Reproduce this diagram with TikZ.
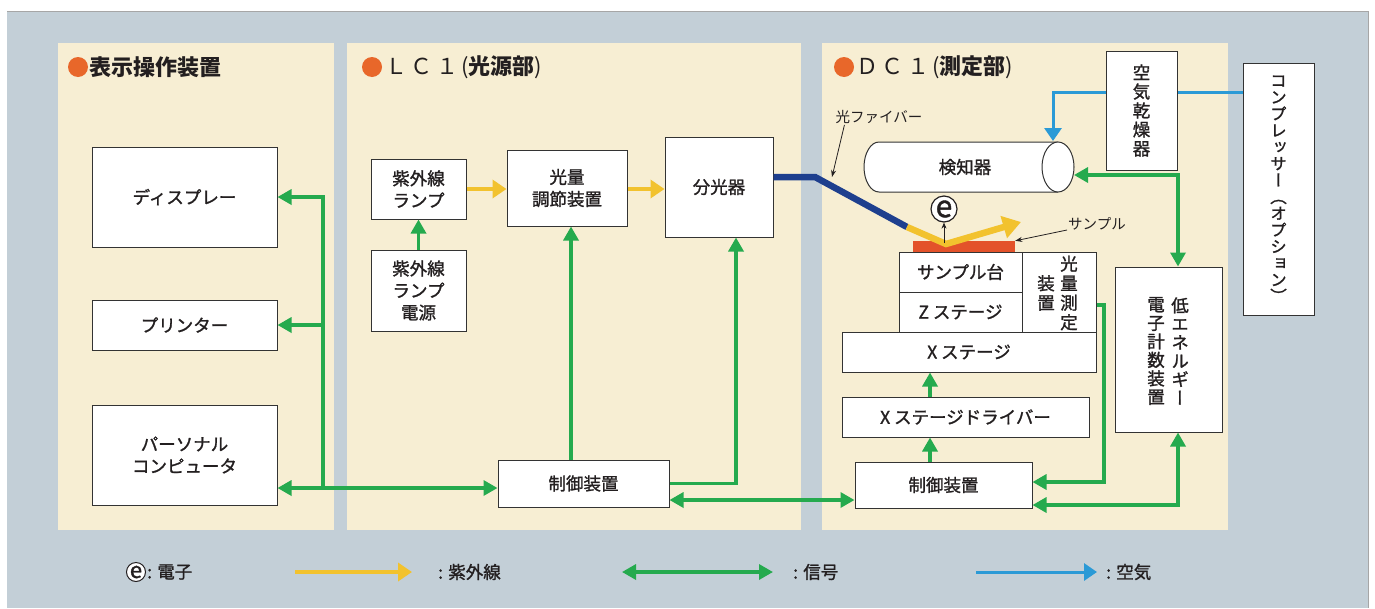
\documentclass[tikz,border=0pt]{standalone}
\usepackage{fontspec}
\setmainfont{Noto Sans CJK JP}
\newfontfamily\jpm{Noto Sans CJK JP}[FakeBold=1.3]
\newfontfamily\vjp{Noto Sans CJK JP}[RawFeature=+vert,FakeBold=1.3]
\usetikzlibrary{arrows.meta,calc}
\definecolor{bgc}{HTML}{C3CFD7}
\definecolor{panelc}{HTML}{F7EED3}
\definecolor{sigc}{HTML}{25AA4E}
\definecolor{uvc}{HTML}{F2C22E}
\definecolor{fibc}{HTML}{1E3F8E}
\definecolor{airc}{HTML}{2B9AD6}
\definecolor{dotc}{HTML}{E8672A}
\definecolor{smpc}{HTML}{E3522A}
\definecolor{boxc}{HTML}{333333}
\definecolor{txtc}{HTML}{231F20}
\tikzset{
  box/.style={draw=boxc, line width=1pt, fill=white, inner sep=0pt, align=center,
    text=txtc, font=\jpm\fontsize{17.5}{22}\selectfont},
  vt/.style={inner sep=0pt, align=center, text=txtc, font=\vjp\fontsize{17.5}{19.5}\selectfont},
  title/.style={anchor=west, inner sep=0pt, text=txtc, font=\fontsize{22}{22}\selectfont\bfseries},
  odot/.style={circle, fill=dotc, minimum size=20pt, inner sep=0pt},
  lbl/.style={inner sep=1pt, text=txtc, font=\fontsize{14.5}{16}\selectfont},
  leg/.style={anchor=west, inner sep=0pt, text=txtc, font=\jpm\fontsize{17.5}{20}\selectfont},
  sigtip/.tip={Triangle[length=14pt,width=15pt]},
  uvtip/.tip={Triangle[length=14pt,width=18pt]},
  airtip/.tip={Triangle[length=13pt,width=17pt]},
  sig/.style={draw=sigc, line width=3.3pt},
  uv/.style={draw=uvc, line width=4.2pt},
  air/.style={draw=airc, line width=3pt},
  lead/.style={draw=txtc, line width=0.8pt, -{Stealth[length=7pt,width=5pt]}},
}
\newcommand\ttlsp{\hspace{3.5pt}}
\begin{document}
\begin{tikzpicture}[x=1pt,y=-1pt]
\useasboundingbox (0,0) rectangle (1375,608);
\fill[bgc] (7,11) rectangle (1368,608);
\draw[black!35, line width=0.6pt] (7,11) -- (1368,11) -- (1368,608);
\fill[panelc] (58,43) rectangle (334,530);
\fill[panelc] (347,43) rectangle (801,530);
\fill[panelc] (822,43) rectangle (1228,530);

% titles
\node[odot] (d1) at (78,67) {};
\node[title] (t1) at (89,67) {表示操作装置};
\node[odot] (d2) at (372,67) {};
\node[title] (t2) at (385,67) {{\mdseries Ｌ\ttlsp Ｃ\ttlsp １}\hspace{3pt}{\mdseries(}光源部{\mdseries)}};
\node[odot] (d3) at (844,67) {};
\node[title] (t3) at (856,67) {{\mdseries Ｄ\ttlsp Ｃ\ttlsp １}\hspace{3pt}{\mdseries(}測定部{\mdseries)}};

% panel 1
\node[box, minimum width=185, minimum height=100] (disp) at (184.5,197) {ディスプレー};
\node[box, minimum width=185, minimum height=50] (prn) at (184.5,325) {プリンター};
\node[box, minimum width=185, minimum height=100] (pc) at (184.5,455) {パーソナル\\コンピュータ};

% panel 2
\node[box, minimum width=95, minimum height=60] (uvl) at (418.5,189) {紫外線\\ランプ};
\node[box, minimum width=95, minimum height=81] (uvp) at (418.5,290.5) {紫外線\\ランプ\\電源};
\node[box, minimum width=120, minimum height=76] (adj) at (567,188) {光量\\調節装置};
\node[box, minimum width=108, minimum height=100] (spec) at (719,187) {分光器};
\node[box, minimum width=171, minimum height=47] (ctl1) at (583.5,483.5) {制御装置};

% panel 3
\node[inner sep=0pt, minimum width=210, minimum height=50] (det) at (969,167) {};
\draw[boxc, line width=1pt, fill=white] (1058,142) -- (879,142)
  arc[start angle=270, end angle=90, x radius=15, y radius=25] -- (1058,192);
\draw[boxc, line width=1pt, fill=white] (1058,167) ellipse [x radius=16, y radius=25];
\node[text=txtc, font=\jpm\fontsize{17.5}{22}\selectfont, inner sep=0pt] (detl) at (965,167) {検知器};

\node[box, minimum width=71, minimum height=119, font=\vjp\fontsize{17.5}{19}\selectfont] (dry) at (1141.5,110.5) {空\\気\\乾\\燥\\器};
\node[box, minimum width=71, minimum height=252, font=\vjp\fontsize{16.5}{16.6}\selectfont] (cmp) at (1278.5,189) {コ\\ン\\プ\\レ\\ッ\\サ\\ー\\（\\オ\\プ\\シ\\ョ\\ン\\）};

\node[box, minimum width=123, minimum height=40] (stg) at (960.5,272) {サンプル台};
\node[box, minimum width=123, minimum height=40] (zst) at (960.5,312) {Z ステージ};
\node[box, minimum width=74, minimum height=80] (lm) at (1059,292) {};
\node[vt] (lm1) at (1069,293) {光\\量\\測\\定};
\node[vt] (lm2) at (1046,293) {装\\置};
\node[box, minimum width=254, minimum height=40] (xst) at (969,352) {X ステージ};
\node[box, minimum width=247, minimum height=40] (drv) at (965.5,417) {X ステージドライバー};
\node[box, minimum width=177, minimum height=46] (ctl2) at (943.5,485) {制御装置};
\node[box, minimum width=107, minimum height=165] (lee) at (1168.5,349.5) {};
\node[vt, font=\vjp\fontsize{17.5}{18.5}\selectfont] (lee1) at (1180,351) {低\\エ\\ネ\\ル\\ギ\\ー};
\node[vt, font=\vjp\fontsize{17.5}{18.5}\selectfont] (lee2) at (1156,351) {電\\子\\計\\数\\装\\置};

% sample and electron
\node[fill=smpc, minimum width=102, minimum height=11, inner sep=0pt] (smp) at (964,246.5) {};
\node[circle, draw=txtc, line width=1.2pt, fill=white, inner sep=0pt, minimum size=26pt,
  text=txtc, font=\jpm\fontsize{30}{30}\selectfont] (el) at (944,209) {e};

% fiber
\coordinate (fb1) at (815,177);
\coordinate (fb2) at (907,227);
\coordinate (fb3) at (946,244);
\coordinate (fb4) at (1021,222);
\draw[fibc, line width=6.5pt, line join=miter] (spec.east |- 0,177) -- (fb1) -- (fb2);
\draw[uvc, line width=6.5pt, line join=miter, -{Triangle[length=18pt,width=22pt]}] (fb2) -- (fb3) -- (fb4);
\draw[txtc, line width=0.9pt, -{Stealth[length=6pt,width=5pt]}] (944,243) -- (el.south);

% labels
\node[lbl] (fibl) at (879,117) {光ファイバー};
\coordinate (fibtip) at (832,177);
\draw[lead] ([xshift=10pt]fibl.south west) -- (fibtip);
\node[lbl] (smpl) at (1097,224) {サンプル};
\draw[lead] ([yshift=-6pt]smpl.west) -- (smp.north east);

% UV arrows
\draw[uv, -uvtip] (uvl.east) -- (adj.west |- uvl.east);
\draw[uv, -uvtip] (adj.east |- 0,189) -- (spec.west |- 0,189);

% signal arrows
\draw[sig, -sigtip] (323,488) -- (323,197) -- (disp.east);
\draw[sig, -sigtip] (323,325) -- (prn.east);
\draw[sig, sigtip-sigtip] (pc.east |- 0,488) -- (ctl1.west |- 0,488);
\draw[sig, -sigtip] (uvp.north) -- (uvl.south);
\draw[sig, -sigtip] (ctl1.north -| 571,0) -- (adj.south -| 571,0);
\draw[sig, -sigtip] (ctl1.east) -- (736,483.5) -- (spec.south -| 736,0);
\draw[sig, sigtip-sigtip] (ctl1.east |- 0,500) -- (ctl2.west |- 0,500);
\draw[sig, -sigtip] (drv.north -| 930,0) -- (xst.south -| 930,0);
\draw[sig, -sigtip] (ctl2.north -| 930,0) -- (drv.south -| 930,0);
\draw[sig, -sigtip] (lm.east |- 0,305) -- (1104,305) -- (1104,482) -- (ctl2.east |- 0,482);
\draw[sig, sigtip-sigtip] (ctl2.east |- 0,505) -- (1178,505) -- (lee.south -| 1178,0);
\draw[sig, sigtip-sigtip] (1074,175) -- (1178,175) -- (lee.north -| 1178,0);

% air
\draw[air] (cmp.west |- 0,92) -- (dry.east |- 0,92);
\draw[air, -airtip] (dry.west |- 0,92) -- (1053,92) -- (1053,141);

% legend
\node[circle, draw=txtc, line width=1pt, fill=white, inner sep=0pt, minimum size=19pt,
  text=txtc, font=\jpm\fontsize{22}{22}\selectfont] (lege) at (136,572) {e};
\node[leg] (legel) at (147,572) {: 電子};
\coordinate (ly1) at (295,572);
\coordinate (ly2) at (412,572);
\draw[uv, -uvtip] (ly1) -- (ly2);
\node[leg] (legu) at (438,572) {: 紫外線};
\coordinate (lg1) at (622,572);
\coordinate (lg2) at (773,572);
\draw[sig, sigtip-sigtip] (lg1) -- (lg2);
\node[leg] (legs) at (793,572) {: 信号};
\coordinate (la1) at (976,572);
\coordinate (la2) at (1097,572);
\draw[air, -airtip] (la1) -- (la2);
\node[leg] (lega) at (1106,572) {: 空気};
\end{tikzpicture}
\end{document}
